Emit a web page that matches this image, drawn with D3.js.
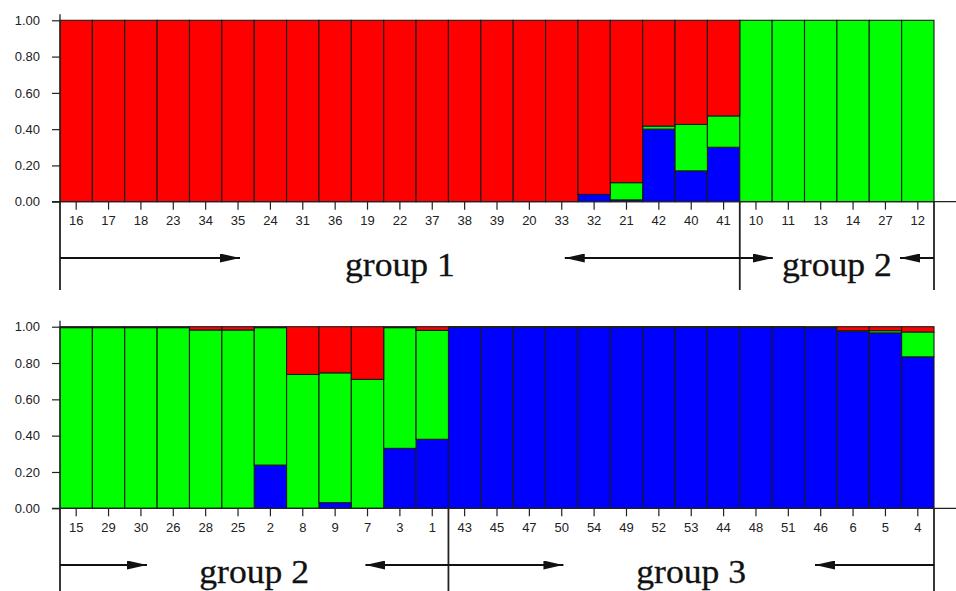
<!DOCTYPE html>
<html>
<head>
<meta charset="utf-8">
<script src="https://cdn.jsdelivr.net/npm/d3@7"></script>
<style>
  html, body { margin: 0; padding: 0; background: #fff; }
  svg { display: block; }
</style>
</head>
<body>
<svg id="chart" width="956" height="591"></svg>
<script>
// ---------- data ----------
const labelsTop = ["16","17","18","23","34","35","24","31","36","19","22","37","38","39","20","33","32","21","42","40","41","10","11","13","14","27","12"];
const blueTop  = [0,0,0,0,0,0,0,0,0,0,0,0,0,0,0,0,0.04,0.01,0.40,0.17,0.30,0,0,0,0,0,0];
const greenTop = [0,0,0,0,0,0,0,0,0,0,0,0,0,0,0,0,0,0.095,0.017,0.256,0.173,1,1,1,1,1,1];
const redTop   = [1,1,1,1,1,1,1,1,1,1,1,1,1,1,1,1,0.96,0.895,0.583,0.574,0.527,0,0,0,0,0,0];

const labelsBottom = ["15","29","30","26","28","25","2","8","9","7","3","1","43","45","47","50","54","49","52","53","44","48","51","46","6","5","4"];
const blueBottom  = [0,0,0,0,0,0,0.238,0,0.031,0,0.33,0.38,0.997,0.997,0.997,0.997,0.997,0.997,0.997,0.997,0.997,0.997,0.997,0.995,0.975,0.966,0.834];
const greenBottom = [0.995,0.995,0.995,0.995,0.982,0.982,0.757,0.737,0.715,0.71,0.665,0.60,0.002,0.002,0.002,0.002,0.002,0.002,0.002,0.002,0.002,0.002,0.002,0.001,0.003,0.012,0.137];
const redBottom   = [0.005,0.005,0.005,0.005,0.018,0.018,0.005,0.263,0.254,0.29,0.005,0.02,0.001,0.001,0.001,0.001,0.001,0.001,0.001,0.001,0.001,0.001,0.001,0.004,0.022,0.022,0.029];

const yTicks = [0, 0.2, 0.4, 0.6, 0.8, 1.0];

// groups: name, first bar index, end index (exclusive)
const groupsTop = [
  { name: "group 1", start: 0, end: 21 },
  { name: "group 2", start: 21, end: 27 }
];
const groupsBottom = [
  { name: "group 2", start: 0, end: 12 },
  { name: "group 3", start: 12, end: 27 }
];

// ---------- layout ----------
const colors = { blue: "#0000ff", green: "#00ff00", red: "#ff0000" };
const left = 60, right = 934;
const panels = [
  { labels: labelsTop, blue: blueTop, green: greenTop, red: redTop, groups: groupsTop,
    y0: 201.7, y1: 20.3, arrowY: 258, sepBottom: 290, textBase: 276,
    arrowLen: [[180, 175], [33, 34]] },
  { labels: labelsBottom, blue: blueBottom, green: greenBottom, red: redBottom, groups: groupsBottom,
    y0: 508.3, y1: 326.7, arrowY: 565, sepBottom: 591, textBase: 583,
    arrowLen: [[87, 83], [115, 119]] }
];

const svg = d3.select("#chart");
const defs = svg.append("defs");
defs.append("marker")
  .attr("id", "arrowEnd")
  .attr("viewBox", "0 0 20 9")
  .attr("refX", 20).attr("refY", 4.5)
  .attr("markerWidth", 20).attr("markerHeight", 9)
  .attr("markerUnits", "userSpaceOnUse")
  .attr("orient", "auto")
  .append("path").attr("d", "M0,0 L20,4.5 L0,9 Z").attr("fill", "#111");

panels.forEach(p => {
  const g = svg.append("g");
  const x = d3.scaleBand().domain(p.labels).range([left, right]).padding(0);
  const y = d3.scaleLinear().domain([0, 1]).range([p.y0, p.y1]);

  const rows = p.labels.map((lab, i) => ({
    label: lab, blue: p.blue[i], green: p.green[i], red: p.red[i]
  }));
  const stack = d3.stack().keys(["blue", "green", "red"])(rows);

  // bars
  stack.forEach(layer => {
    g.append("g")
      .selectAll("rect")
      .data(layer.filter(d => d[1] - d[0] > 0))
      .join("rect")
      .attr("x", d => x(d.data.label))
      .attr("width", x.bandwidth())
      .attr("y", d => y(d[1]))
      .attr("height", d => y(d[0]) - y(d[1]))
      .attr("fill", colors[layer.key])
      .attr("stroke", "#1a1a1a")
      .attr("stroke-width", 1.1);
  });

  // y axis
  const yAxis = d3.axisLeft(y)
    .tickValues(yTicks)
    .tickFormat(d3.format(".2f"))
    .tickSize(8)
    .tickPadding(12);
  const ya = g.append("g").attr("transform", `translate(${left},0)`).call(yAxis);
  ya.select(".domain").remove();
  ya.selectAll(".tick line").attr("stroke", "#222").attr("stroke-width", 1.2);
  ya.selectAll("text")
    .attr("font-family", "'Liberation Sans', Arial, sans-serif")
    .attr("font-size", 13).attr("fill", "#222");
  g.append("line")
    .attr("x1", left).attr("x2", left)
    .attr("y1", p.y1 - 6).attr("y2", p.y0)
    .attr("stroke", "#222").attr("stroke-width", 1.3);

  // x axis
  const xAxis = d3.axisBottom(x).tickSize(8).tickPadding(6);
  const xa = g.append("g").attr("transform", `translate(0,${p.y0})`).call(xAxis);
  xa.select(".domain").remove();
  xa.selectAll(".tick line").attr("stroke", "#222").attr("stroke-width", 1.2);
  xa.selectAll("text")
    .attr("font-family", "'Liberation Sans', Arial, sans-serif")
    .attr("font-size", 13).attr("fill", "#222");
  g.append("line")
    .attr("x1", left - 8).attr("x2", 956)
    .attr("y1", p.y0).attr("y2", p.y0)
    .attr("stroke", "#222").attr("stroke-width", 1.3);

  // group separators and annotations
  const bounds = new Set();
  p.groups.forEach(gr => { bounds.add(gr.start); bounds.add(gr.end); });
  const edgeX = i => i >= p.labels.length ? right : x(p.labels[i]);
  [...bounds].forEach(i => {
    g.append("line")
      .attr("x1", edgeX(i)).attr("x2", edgeX(i))
      .attr("y1", p.y0).attr("y2", p.sepBottom)
      .attr("stroke", "#222").attr("stroke-width", 1.8);
  });

  p.groups.forEach((gr, gi) => {
    const xs = edgeX(gr.start), xe = edgeX(gr.end);
    const [la, ra] = p.arrowLen[gi];
    g.append("line")
      .attr("x1", xs).attr("x2", xs + la)
      .attr("y1", p.arrowY).attr("y2", p.arrowY)
      .attr("stroke", "#111").attr("stroke-width", 1.8)
      .attr("marker-end", "url(#arrowEnd)");
    g.append("line")
      .attr("x1", xe).attr("x2", xe - ra)
      .attr("y1", p.arrowY).attr("y2", p.arrowY)
      .attr("stroke", "#111").attr("stroke-width", 1.8)
      .attr("marker-end", "url(#arrowEnd)");
    const cx = (xs + xe) / 2;
    g.append("text")
      .attr("transform", `translate(${cx},${p.textBase}) scale(1.08,1)`)
      .attr("text-anchor", "middle")
      .attr("font-family", "'Liberation Serif', 'Times New Roman', serif")
      .attr("font-size", 33)
      .attr("fill", "#111")
      .attr("stroke", "#111").attr("stroke-width", 0.3)
      .text(gr.name);
  });
});
</script>
</body>
</html>
